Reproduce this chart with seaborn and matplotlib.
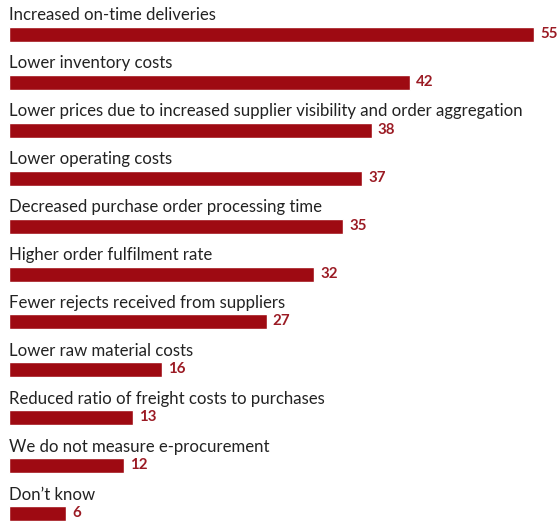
import matplotlib
matplotlib.use("Agg")
import matplotlib.pyplot as plt
import seaborn as sns
import pandas as pd

categories = [
    "Increased on-time deliveries",
    "Lower inventory costs",
    "Lower prices due to increased supplier visibility and order aggregation",
    "Lower operating costs",
    "Decreased purchase order processing time",
    "Higher order fulfilment rate",
    "Fewer rejects received from suppliers",
    "Lower raw material costs",
    "Reduced ratio of freight costs to purchases",
    "We do not measure e-procurement",
    "Don\u2019t know",
]
values = [55, 42, 38, 37, 35, 32, 27, 16, 13, 12, 6]

df = pd.DataFrame({"category": categories, "value": values})

sns.set_theme(style="white")
plt.rcParams["font.family"] = ["Lato", "DejaVu Sans"]

W, H, DPI = 560, 521, 100
fig = plt.figure(figsize=(W / DPI, H / DPI), dpi=DPI)
ax = fig.add_axes([0, 0, 1, 1])

bar_color = "#9E0A12"
sns.barplot(data=df, x="value", y="category", orient="h", color=bar_color,
            saturation=1, width=15 / 48, ax=ax)

# pixel geometry: zero at x=9px, 55 at x=534px; rows 48px apart
px_per_unit = (534 - 9) / 55
ax.set_xlim(-9 / px_per_unit, (W - 9) / px_per_unit)
row0 = 34
ax.set_ylim((H - row0) / 48, -row0 / 48)

# size the category labels so the longest one spans about 511px
renderer = fig.canvas.get_renderer()
longest = max(categories, key=len)
probe = ax.text(0, 0, longest, fontsize=12)
w = probe.get_window_extent(renderer).width
probe.remove()
label_size = 12 * 511 / w

for i, (cat, val) in enumerate(zip(categories, values)):
    ax.text(0, i - 14 / 48, cat, ha="left", va="baseline",
            fontsize=label_size, color="#222222")
    ax.text(val + 6 / px_per_unit, i + 3.5 / 48, str(val), ha="left",
            va="baseline", fontsize=10.8, fontweight="bold", color="#9B1B24")

ax.axis("off")
fig.savefig("out.png", dpi=DPI)
